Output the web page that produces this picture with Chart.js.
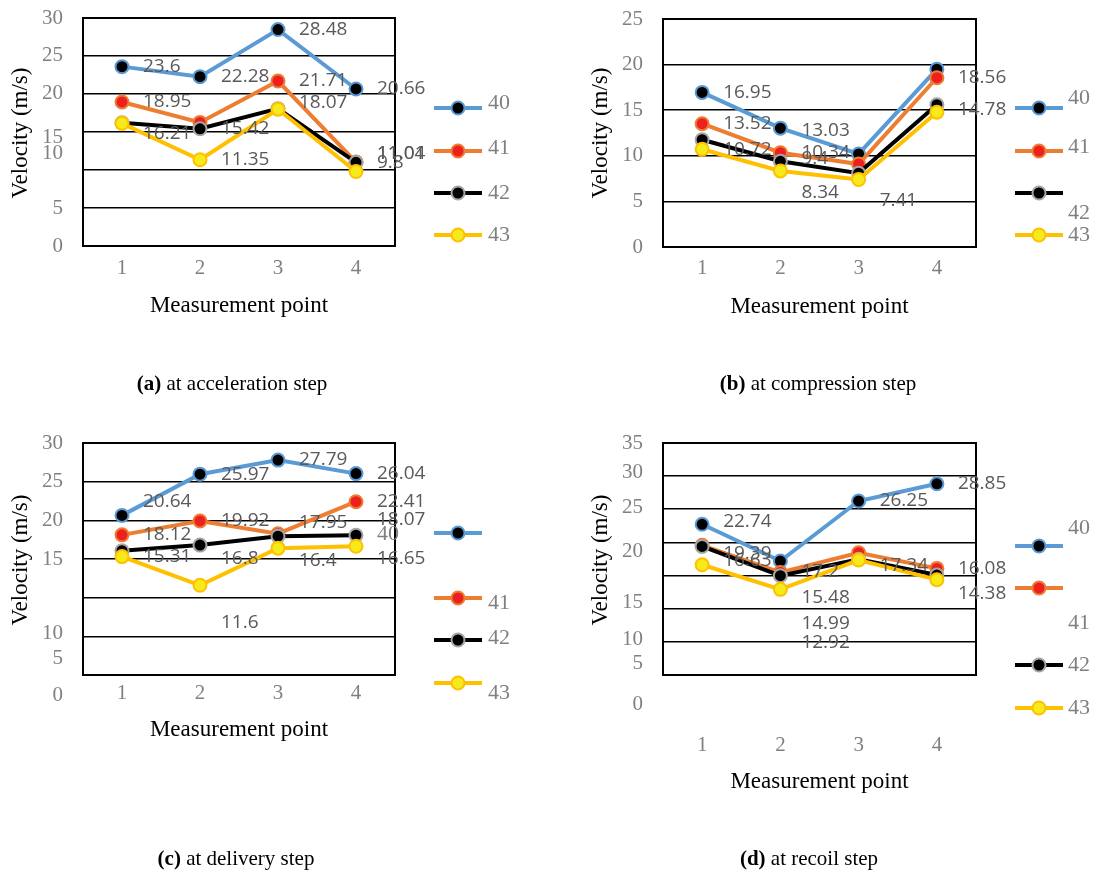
<!DOCTYPE html>
<html>
<head>
<meta charset="utf-8">
<script src="https://cdn.jsdelivr.net/npm/chart.js@4.4.1/dist/chart.umd.min.js"></script>
<style>
  body { margin: 0; background: #fff; width: 1097px; height: 875px; position: relative; overflow: hidden; }
  canvas { position: absolute; }
  .cap { position: absolute; font-family: "Liberation Serif", "Times New Roman", serif; font-size: 21px; color: #000;
         transform: translateX(-50%); white-space: nowrap; line-height: 24px; }
</style>
</head>
<body>
<canvas id="pa" width="560" height="420" style="left:0;top:0"></canvas>
<canvas id="pb" width="537" height="420" style="left:560px;top:0"></canvas>
<canvas id="pc" width="560" height="455" style="left:0;top:420px"></canvas>
<canvas id="pd" width="537" height="455" style="left:560px;top:420px"></canvas>

<div class="cap" style="left:232px;top:371px"><b>(a)</b> at acceleration step</div>
<div class="cap" style="left:818px;top:371px"><b>(b)</b> at compression step</div>
<div class="cap" style="left:236px;top:846px"><b>(c)</b> at delivery step</div>
<div class="cap" style="left:809px;top:846px"><b>(d)</b> at recoil step</div>

<script>
// --- categories and series names ---
const points = ['1', '2', '3', '4'];
const seriesNames = ['40', '41', '42', '43'];

// --- (a) acceleration step ---
const accel40 = [23.6, 22.28, 28.48, 20.66];
const accel41 = [18.95, 16.26, 21.71, 11.04];
const accel42 = [16.21, 15.42, 18.07, 11.01];
const accel43 = [16.14, 11.35, 18.0, 9.8];
const accelLabels = [
    ['23.6', '22.28', '28.48', '20.66'],
    ['18.95', null, '21.71', '11.04'],
    ['16.21', '15.42', '18.07', '11.01'],
    [null, '11.35', null, '9.8']
];
const accelTicks = ['0', '5', '10', '15', '20', '25', '30'];

// --- (b) compression step ---
const comp40 = [16.95, 13.03, 10.2, 19.5];
const comp41 = [13.52, 10.34, 9.1, 18.56];
const comp42 = [11.76, 9.4, 8.1, 15.6];
const comp43 = [10.72, 8.34, 7.41, 14.78];
const compLabels = [
    ['16.95', '13.03', null, null],
    ['13.52', '10.34', null, '18.56'],
    [null, '9.4', null, null],
    ['10.72', '8.34', '7.41', '14.78']
];
const compTicks = ['0', '5', '10', '15', '20', '25'];

// --- (c) delivery step ---
const deliv40 = [20.64, 25.97, 27.79, 26.04];
const deliv41 = [18.12, 19.92, 18.27, 22.41];
const deliv42 = [16.07, 16.8, 17.95, 18.07];
const deliv43 = [15.31, 11.6, 16.4, 16.65];
const delivLabels = [
    ['20.64', '25.97', '27.79', '26.04'],
    ['18.12', '19.92', null, '22.41'],
    [null, '16.8', '17.95', '18.07'],
    ['15.31', '11.6', '16.4', '16.65']
];
const delivTicks = ['0', '5', '10', '15', '20', '25', '30'];

// --- (d) recoil step ---
const recoil40 = [22.74, 17.2, 26.25, 28.85];
const recoil41 = [19.56, 15.48, 18.45, 16.08];
const recoil42 = [19.39, 14.99, 17.45, 15.08];
const recoil43 = [16.63, 12.92, 17.34, 14.38];
const recoilLabels = [
    ['22.74', '17.2', '26.25', '28.85'],
    [null, '15.48', null, '16.08'],
    ['19.39', '14.99', null, null],
    ['16.63', '12.92', '17.34', '14.38']
];
const recoilTicks = ['0', '5', '10', '15', '20', '25', '30', '35'];

// --- styles ---
const lineColors = ['#5b9bd5', '#ed7d31', '#000000', '#ffc000'];
const markFill = ['#000000', '#ee1f1f', '#000000', '#f7ea1a'];
const markBorder = ['#5b9bd5', '#ed7d31', '#a5a5a5', '#ffc000'];
const SERIF = '"Liberation Serif", "Times New Roman", serif';
const SANS = '"Open Sans", "Liberation Sans", sans-serif';

// Panel layout (page pixel coords). tickAt = value level where each tick label sits
// (the original figure has some of them slipped off their grid lines).
const panels = [
    {
        id: 'pa', origin: [0, 0], size: [560, 420], box: [83, 18, 395, 246], yMax: 30,
        series: [accel40, accel41, accel42, accel43], labels: accelLabels,
        labelDy: [[0, 0, 0, 0], [0, 0, 0, -9], [11, 0, -6, -9], [0, 0, 0, -9]],
        ticks: accelTicks, tickAt: [0, 4.9, 12.2, 14.3, 20.1, 25.1, 30],
        xLabelY: 268, xTitleY: 306, yTitle: [21, 133],
        legend: { x1: 434, x2: 482, ys: [108, 151, 193, 235], lx: [488, 488, 488, 488], ly: [103, 148, 193, 235] }
    },
    {
        id: 'pb', origin: [560, 0], size: [537, 420], box: [663, 19, 976, 247], yMax: 25,
        series: [comp40, comp41, comp42, comp43], labels: compLabels,
        labelDy: [[0, 2, 0, 0], [0, 0, 0, 0], [0, -3, 0, 0], [0, 22, 21, -3]],
        ticks: compTicks, tickAt: [0, 5, 10, 15, 20, 25],
        xLabelY: 268, xTitleY: 307, yTitle: [601, 133],
        legend: { x1: 1015, x2: 1063, ys: [108, 151, 193, 235], lx: [1068, 1068, 1068, 1068], ly: [98, 147, 213, 235] }
    },
    {
        id: 'pc', origin: [0, 420], size: [560, 455], box: [83, 443, 395, 675], yMax: 30,
        series: [deliv40, deliv41, deliv42, deliv43], labels: delivLabels,
        labelDy: [[-14, 0, 0, 0], [0, 0, 0, 0], [0, 14, -14, -16], [0, 37, 12, 12]],
        ticks: delivTicks, tickAt: [-2.6, 2.1, 5.4, 15, 20, 25, 30],
        xLabelY: 693, xTitleY: 730, yTitle: [21, 560],
        legend: { x1: 434, x2: 482, ys: [533, 598, 640, 683], lx: [377, 488, 488, 488], ly: [534, 603, 638, 693] }
    },
    {
        id: 'pd', origin: [560, 420], size: [537, 455], box: [663, 443, 976, 675], yMax: 35,
        series: [recoil40, recoil41, recoil42, recoil43], labels: recoilLabels,
        labelDy: [[-3, 11, 0, 0], [0, 25, 0, 0], [7, 48, 0, 0], [-4, 53, 6, 14]],
        ticks: recoilTicks, tickAt: [-4.5, 1.8, 5.3, 11.0, 18.6, 25.3, 30.5, 35],
        xLabelY: 745, xTitleY: 782, yTitle: [601, 560],
        legend: { x1: 1015, x2: 1063, ys: [546, 588, 665, 708], lx: [1068, 1068, 1068, 1068], ly: [528, 623, 665, 708] }
    }
];

// --- plugin: frame, tick labels, titles, data labels, legend ---
const decorPlugin = {
    id: 'decor',
    beforeDatasetsDraw(chart) {
        const { ctx, chartArea: a } = chart;
        ctx.save();
        ctx.strokeStyle = '#000';
        ctx.lineWidth = 2;
        ctx.strokeRect(a.left, a.top, a.right - a.left, a.bottom - a.top);
        ctx.restore();
    },
    afterDraw(chart, args, opts) {
        const p = opts.panel;
        const ox = p.origin[0], oy = p.origin[1];
        const { ctx, scales: { x, y } } = chart;
        ctx.save();

        // y tick labels
        ctx.font = '21px ' + SERIF;
        ctx.fillStyle = '#808080';
        ctx.textAlign = 'right';
        ctx.textBaseline = 'middle';
        p.ticks.forEach((t, i) => {
            ctx.fillText(t, chart.chartArea.left - 20, y.getPixelForValue(p.tickAt[i]));
        });

        // x tick labels
        ctx.textAlign = 'center';
        points.forEach((c, i) => {
            ctx.fillText(c, x.getPixelForValue(i), p.xLabelY - oy);
        });

        // axis titles
        ctx.font = '23px ' + SERIF;
        ctx.fillStyle = '#000';
        ctx.fillText('Measurement point', (chart.chartArea.left + chart.chartArea.right) / 2, p.xTitleY - oy);
        ctx.save();
        ctx.translate(p.yTitle[0] - ox, p.yTitle[1] - oy);
        ctx.rotate(-Math.PI / 2);
        ctx.fillText('Velocity (m/s)', 0, 0);
        ctx.restore();

        // data labels
        ctx.font = '19px ' + SANS;
        ctx.fillStyle = '#595959';
        ctx.textAlign = 'left';
        p.labels.forEach((row, si) => {
            const meta = chart.getDatasetMeta(si);
            row.forEach((txt, i) => {
                if (txt === null) return;
                const el = meta.data[i];
                ctx.fillText(txt, el.x + 21, el.y + p.labelDy[si][i]);
            });
        });

        // legend
        const L = p.legend;
        seriesNames.forEach((name, si) => {
            const ly = L.ys[si] - oy;
            ctx.strokeStyle = lineColors[si];
            ctx.lineWidth = 4;
            ctx.beginPath();
            ctx.moveTo(L.x1 - ox, ly);
            ctx.lineTo(L.x2 - ox, ly);
            ctx.stroke();
            ctx.beginPath();
            ctx.arc((L.x1 + L.x2) / 2 - ox, ly, 6.5, 0, Math.PI * 2);
            ctx.fillStyle = markFill[si];
            ctx.fill();
            ctx.lineWidth = 2;
            ctx.strokeStyle = markBorder[si];
            ctx.stroke();
            ctx.font = '22px ' + SERIF;
            ctx.fillStyle = '#808080';
            ctx.textAlign = 'left';
            ctx.fillText(name, L.lx[si] - ox, L.ly[si] - oy);
        });
        ctx.restore();
    }
};

panels.forEach(p => {
    const [ox, oy] = p.origin;
    const [w, h] = p.size;
    const [bl, bt, br, bb] = p.box;
    new Chart(document.getElementById(p.id), {
        type: 'line',
        data: {
            labels: points,
            datasets: p.series.map((vals, si) => ({
                label: seriesNames[si],
                data: vals,
                borderColor: lineColors[si],
                borderWidth: 4,
                pointRadius: 6.5,
                pointBorderWidth: 2,
                pointBackgroundColor: markFill[si],
                pointBorderColor: markBorder[si],
                tension: 0,
                order: seriesNames.length - si,
                clip: 10
            }))
        },
        options: {
            responsive: false,
            animation: false,
            devicePixelRatio: 1,
            layout: { padding: { left: bl - ox, top: bt - oy, right: ox + w - br, bottom: oy + h - bb } },
            plugins: { legend: { display: false }, tooltip: { enabled: false }, decor: { panel: p } },
            scales: {
                x: {
                    offset: true,
                    grid: { display: false, drawTicks: false },
                    border: { display: false },
                    ticks: { display: false }
                },
                y: {
                    min: 0, max: p.yMax,
                    ticks: { display: false, stepSize: 5 },
                    grid: { color: '#000', lineWidth: 1.6, drawTicks: false },
                    border: { display: false }
                }
            }
        },
        plugins: [decorPlugin]
    });
});
</script>
</body>
</html>
